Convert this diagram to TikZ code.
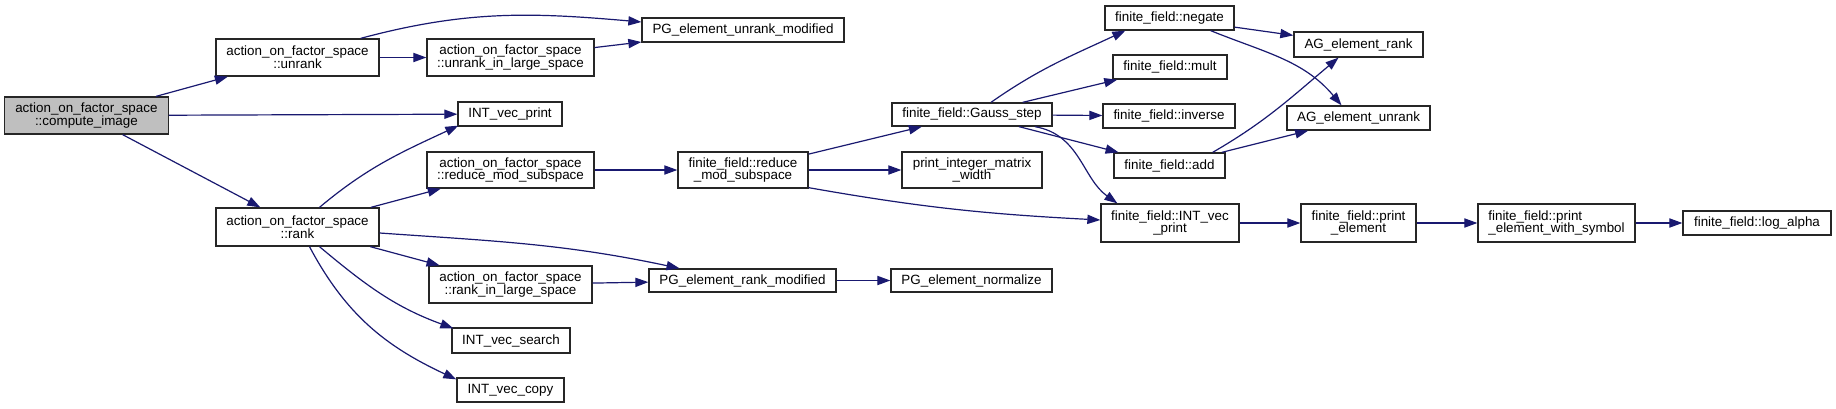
\documentclass[tikz,border=0pt]{standalone}
\usepackage{fontspec}
\setmainfont{Liberation Sans}
\usetikzlibrary{arrows.meta, calc, positioning}

\definecolor{edgeblue}{HTML}{191970}
\definecolor{rootgray}{HTML}{BFBFBF}

\tikzset{
    fnbox/.style={draw=black!85, line width=0.65pt, fill=white, inner sep=0pt,
        align=center, font=\fontsize{6.7}{6.3}\selectfont},
    rootbox/.style={fnbox, fill=rootgray},
    call/.style={draw=edgeblue, line width=0.6pt, -{Triangle[length=6.5pt, width=4.6pt]}},
}

\begin{document}
\begin{tikzpicture}[x=0.5pt, y=0.5pt]
    \useasboundingbox[fill=white] (0,0) rectangle (1836,-408);

    % Root of the call graph
    \node[rootbox, minimum width=81.75pt, minimum height=18.5pt] (compute) at (86.4,-115.5)
        {action\_on\_factor\_space\\::compute\_image};

    % Second column
    \node[fnbox, minimum width=81.5pt, minimum height=18.5pt] (unrank) at (297.5,-57.5)
        {action\_on\_factor\_space\\::unrank};
    \node[fnbox, minimum width=81.5pt, minimum height=19pt] (rank) at (297.5,-227)
        {action\_on\_factor\_space\\::rank};

    % Third column
    \node[fnbox, minimum width=83.5pt, minimum height=18.5pt] (unranklarge) at (510.5,-57.5)
        {action\_on\_factor\_space\\::unrank\_in\_large\_space};
    \node[fnbox, minimum width=52pt, minimum height=12pt] (intprint) at (510,-114)
        {INT\_vec\_print};
    \node[fnbox, minimum width=83.5pt, minimum height=18pt] (aofsreduce) at (510.5,-170)
        {action\_on\_factor\_space\\::reduce\_mod\_subspace};
    \node[fnbox, minimum width=81.5pt, minimum height=18.5pt] (ranklarge) at (510.5,-284.5)
        {action\_on\_factor\_space\\::rank\_in\_large\_space};
    \node[fnbox, minimum width=59pt, minimum height=12.5pt] (search) at (511,-340.5)
        {INT\_vec\_search};
    \node[fnbox, minimum width=53.5pt, minimum height=12pt] (copy) at (510.5,-390)
        {INT\_vec\_copy};

    % Fourth column
    \node[fnbox, minimum width=101pt, minimum height=12pt] (pgunrank) at (743,-30)
        {PG\_element\_unrank\_modified};
    \node[fnbox, minimum width=65pt, minimum height=18pt] (ffreduce) at (743,-170)
        {finite\_field::reduce\\\_mod\_subspace};
    \node[fnbox, minimum width=93.5pt, minimum height=11.5pt] (pgrank) at (742.5,-280.5)
        {PG\_element\_rank\_modified};

    % Fifth column
    \node[fnbox, minimum width=80pt, minimum height=11.5pt] (gauss) at (972,-114.5)
        {finite\_field::Gauss\_step};
    \node[fnbox, minimum width=70pt, minimum height=18pt] (pimw) at (972,-170)
        {print\_integer\_matrix\\\_width};
    \node[fnbox, minimum width=80.5pt, minimum height=11.5pt] (normalize) at (971.5,-280.5)
        {PG\_element\_normalize};

    % Sixth column
    \node[fnbox, minimum width=64.5pt, minimum height=12pt] (negate) at (1169.5,-18)
        {finite\_field::negate};
    \node[fnbox, minimum width=57pt, minimum height=12pt] (mult) at (1170,-67)
        {finite\_field::mult};
    \node[fnbox, minimum width=66pt, minimum height=12pt] (inverse) at (1169,-116)
        {finite\_field::inverse};
    \node[fnbox, minimum width=55.5pt, minimum height=12.5pt] (add) at (1169.5,-165.5)
        {finite\_field::add};
    \node[fnbox, minimum width=69pt, minimum height=19pt] (ffintprint) at (1170,-223)
        {finite\_field::INT\_vec\\\_print};

    % Last columns
    \node[fnbox, minimum width=64.5pt, minimum height=12.5pt] (agrank) at (1358.5,-44.5)
        {AG\_element\_rank};
    \node[fnbox, minimum width=71.5pt, minimum height=12pt] (agunrank) at (1358.5,-118)
        {AG\_element\_unrank};
    \node[fnbox, minimum width=57.5pt, minimum height=19pt] (printel) at (1358.5,-223)
        {finite\_field::print\\\_element};
    \node[fnbox, align=left, minimum width=78.5pt, minimum height=19pt] (pews) at (1556.5,-223)
        {finite\_field::print\\\_element\_with\_symbol};
    \node[fnbox, minimum width=74pt, minimum height=12pt] (logalpha) at (1757,-223)
        {finite\_field::log\_alpha};

    % Calls from the root
    \draw[call] (compute) -- (unrank);
    \draw[call] (compute) -- (intprint);
    \draw[call] (compute) -- (rank);

    % Calls from unrank
    \draw[call] ($(unrank.north east)+(-19,0)$) to[out=15, in=175] ($(pgunrank.west)+(0,8)$);
    \draw[call] (unrank) -- (unranklarge);
    \draw[call] (unranklarge) -- (pgunrank);

    % Calls from rank
    \draw[call] ($(rank.north)+(22,0)$) to[out=40, in=205] ($(intprint.south west)+(1,1)$);
    \draw[call] (rank) -- (aofsreduce);
    \draw[call] ($(rank.east)+(0,-6)$) to[out=-4, in=168] ($(pgrank.north)+(-63,0)$);
    \draw[call] (rank) -- (ranklarge);
    \draw[call] ($(rank.south)+(22,0)$) to[out=-40, in=160] ($(search.north west)+(2,-1)$);
    \draw[call] ($(rank.south)+(12,0)$) to[out=-62, in=155] ($(copy.north west)+(0,-2)$);

    % Middle of the graph
    \draw[call] (aofsreduce) -- (ffreduce);
    \draw[call] (ranklarge) -- (pgrank);
    \draw[call] (ffreduce) -- (gauss);
    \draw[call] (ffreduce) -- (pimw);
    \draw[call] ($(ffreduce.south east)+(0,1)$) to[out=-10, in=177] ($(ffintprint.west)+(0,3)$);
    \draw[call] (pgrank) -- (normalize);

    % Calls from Gauss_step
    \draw[call] ($(gauss.north)+(19,0)$) to[out=35, in=205] ($(negate.south west)+(21,0)$);
    \draw[call] (gauss) -- (mult);
    \draw[call] (gauss) -- (inverse);
    \draw[call] (gauss) -- (add);
    \draw[call] ($(gauss.south)+(63,0)$) .. controls +(45,-8) and +(-35,25) .. ($(ffintprint.north west)+(17,0)$);

    % AG calls
    \draw[call] (negate) -- (agrank);
    \draw[call] ($(negate.south east)+(-24,0)$) to[out=-22, in=130] ($(agunrank.north)+(-17,0)$);
    \draw[call] ($(add.north east)+(-13,0)$) to[out=30, in=220] ($(agrank.south)+(-20,0)$);
    \draw[call] (add) -- (agunrank);

    % Print chain
    \foreach \a/\b in {ffintprint/printel, printel/pews, pews/logalpha}
        \draw[call] (\a) -- (\b);
\end{tikzpicture}
\end{document}
